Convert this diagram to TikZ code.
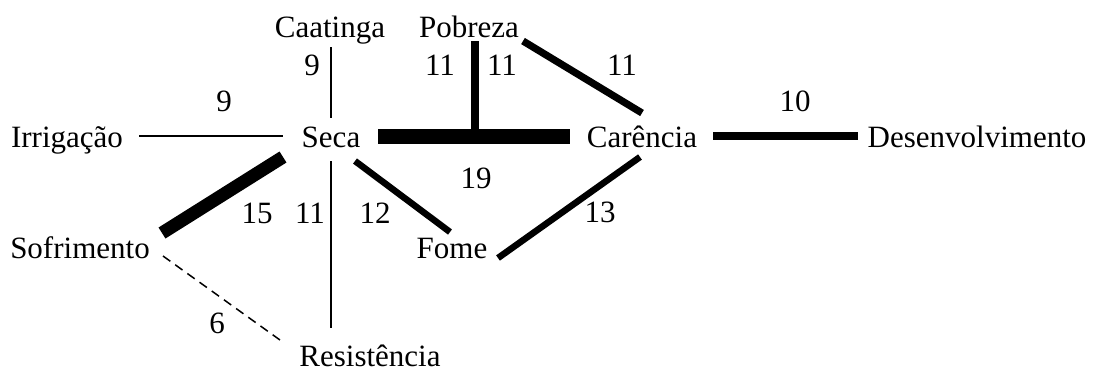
\documentclass[tikz,border=0pt]{standalone}
\usepackage{fontspec}
\setmainfont{Liberation Serif}
\usetikzlibrary{calc}
\begin{document}
\begin{tikzpicture}[x=0.5pt,y=-0.5pt,
  term/.style={anchor=base,inner sep=0pt,font=\fontsize{15.5}{18}\selectfont},
  num/.style={inner sep=0pt,font=\fontsize{15.5}{18}\selectfont},
  weak/.style={line width=0.75pt},
  wdash/.style={line width=0.75pt,dash pattern=on 4.5pt off 3pt},
  w6/.style={line width=3.25pt},
  w7/.style={line width=3.6pt},
  w13/.style={line width=6.5pt},
  w15/.style={line width=7.5pt}]
\useasboundingbox (0,0) rectangle (1095,372);
% terms
\node[term] (Caat) at (330,37) {Caatinga};
\node[term] (Pobr) at (469,37) {Pobreza};
\node[term] (Irri) at (67,147) {Irrigação};
\node[term] (Seca) at (331,147) {Seca};
\node[term] (Care) at (642,147) {Carência};
\node[term] (Dese) at (977,147) {Desenvolvimento};
\node[term] (Sofr) at (80,258) {Sofrimento};
\node[term] (Fome) at (452,258) {Fome};
\node[term] (Resi) at (370,366) {Resistência};
\coordinate (J) at (475,136);
% connectors
\draw[weak] ($(Caat.base)+(1,10)$) -- ($(Seca.base)+(0,-29)$);
\draw[weak] ($(Irri.base)+(72,-11)$) -- ($(Seca.base)+(-48,-11)$);
\draw[w15] ($(Seca.base)+(47,-11)$) -- ($(Care.base)+(-72,-11)$);
\draw[w7] ($(Pobr.base)+(6,4)$) -- (J);
\draw[w7] ($(Pobr.base)+(54,4)$) -- ($(Care.base)+(0,-34)$);
\draw[w7] ($(Care.base)+(71,-11)$) -- ($(Dese.base)+(-119,-11)$);
\draw[w13] ($(Seca.base)+(-48,10)$) -- ($(Sofr.base)+(82,-25)$);
\draw[weak] ($(Seca.base)+(0,14)$) -- ($(Resi.base)+(-39,-38)$);
\draw[w6] ($(Seca.base)+(24,14)$) -- ($(Fome.base)+(-2,-26)$);
\draw[w6] ($(Fome.base)+(46,0)$) -- ($(Care.base)+(-2,10)$);
\draw[wdash] ($(Sofr.base)+(83,-2)$) -- ($(Resi.base)+(-90,-26)$);
% labels
\node[num] (n1) at (312,65) {9};
\node[num] (n2) at (224,101) {9};
\node[num] (n3) at (440,65) {11};
\node[num] (n4) at (502,65) {11};
\node[num] (n5) at (622,65) {11};
\node[num] (n6) at (795,101) {10};
\node[num] (n7) at (476,178) {19};
\node[num] (n8) at (257,213) {15};
\node[num] (n9) at (310,213) {11};
\node[num] (n10) at (375,213) {12};
\node[num] (n11) at (600,212) {13};
\node[num] (n12) at (217,323) {6};
\end{tikzpicture}
\end{document}
